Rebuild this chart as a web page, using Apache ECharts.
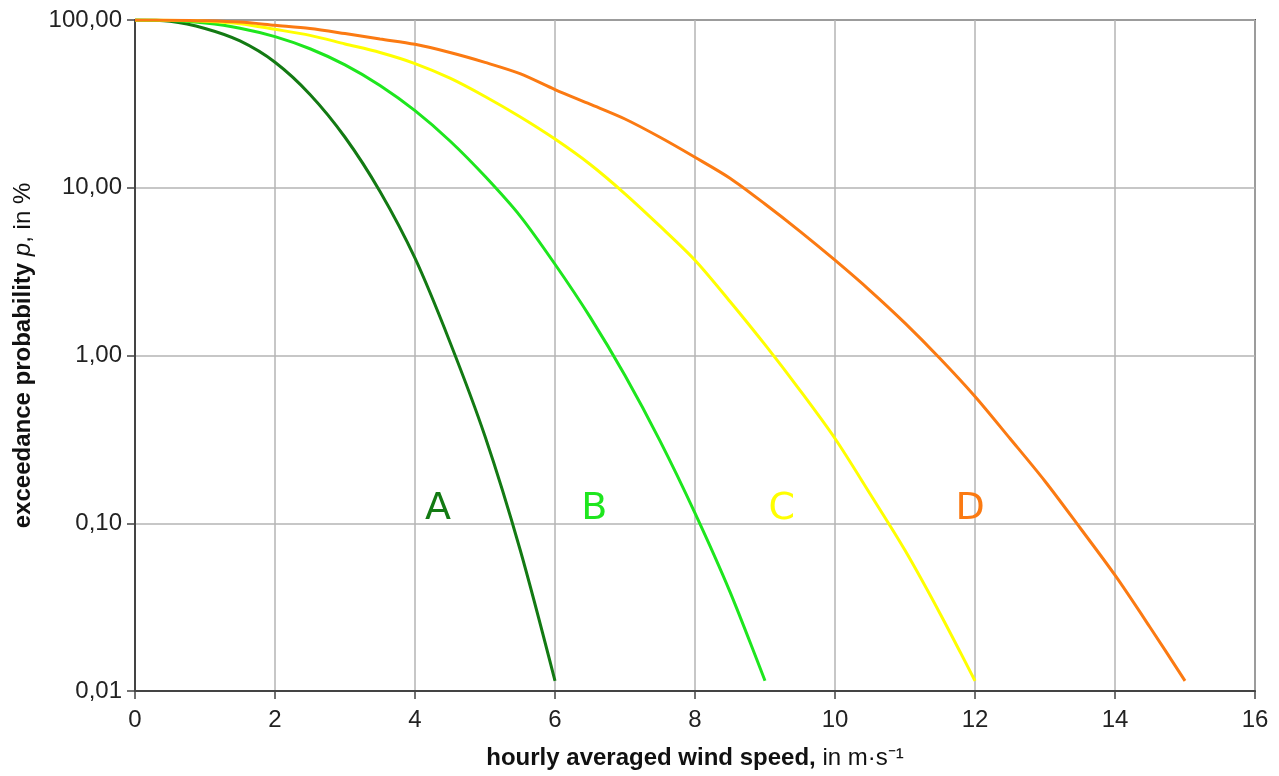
<!DOCTYPE html>
<html>
<head>
<meta charset="utf-8">
<title>Exceedance probability</title>
<script src="https://cdn.jsdelivr.net/npm/echarts@6/dist/echarts.min.js"></script>
<style>
    html, body { margin: 0; padding: 0; background: #fff; }
    #chart { width: 1279px; height: 776px; }
</style>
</head>
<body>
<div id="chart"></div>
<script>
// wind speed steps (m/s)
var speedA = [0, 0.5, 1, 1.5, 2, 2.5, 3, 3.5, 4, 4.5, 5, 5.5, 6];
var speedB = [0, 0.5, 1, 1.5, 2, 2.5, 3, 3.5, 4, 4.5, 5, 5.5, 6, 6.5, 7, 7.5, 8, 8.5, 9];
var speedC = [0, 0.5, 1, 1.5, 2, 2.5, 3, 3.5, 4, 4.5, 5, 5.5, 6, 6.5, 7, 7.5, 8, 8.5, 9, 9.5, 10, 10.5, 11, 11.5, 12];
var speedD = [0, 0.5, 1, 1.5, 2, 2.5, 3, 3.5, 4, 4.5, 5, 5.5, 6, 6.5, 7, 7.5, 8, 8.5, 9, 9.5, 10, 10.5, 11, 11.5, 12, 12.5, 13, 13.5, 14, 14.5, 15];

// exceedance probability p in %
var probA = [100, 98.2, 89, 75, 56, 36, 20, 9.5, 3.8, 1.2, 0.33, 0.07, 0.0115];
var probB = [100, 99.2, 95.9, 89.4, 79.6, 67.4, 54, 40.7, 28.8, 19, 11.7, 6.8, 3.5, 1.7, 0.76, 0.31, 0.115, 0.039, 0.0115];
var probC = [100, 99.6, 98.3, 95, 88, 81, 72, 64, 55, 45, 35, 26.5, 19.5, 13.8, 9.2, 5.9, 3.7, 2.1, 1.16, 0.62, 0.32, 0.15, 0.069, 0.029, 0.0115];
var probD = [100, 99.8, 99, 97.2, 93, 89, 83, 77, 71.6, 64, 55.9, 47.9, 38.5, 31.5, 25.7, 20, 15.2, 11.4, 8, 5.5, 3.7, 2.44, 1.56, 0.96, 0.57, 0.32, 0.178, 0.094, 0.049, 0.024, 0.0115];

// curve names and colors
var curveNames = ["A", "B", "C", "D"];
var curveColors = ["#137a13", "#1ee61e", "#ffff00", "#fb7a12"];
var labelSpeed = [4.33, 6.56, 9.24, 11.93];
var labelProb = 0.1;

function pairs(xs, ys) {
    var out = [];
    for (var i = 0; i < xs.length; i++) {
        out.push([xs[i], ys[i]]);
    }
    return out;
}

var allSpeeds = [speedA, speedB, speedC, speedD];
var allProbs = [probA, probB, probC, probD];

var series = [];
for (var k = 0; k < curveNames.length; k++) {
    series.push({
        name: curveNames[k],
        type: "line",
        data: pairs(allSpeeds[k], allProbs[k]),
        showSymbol: false,
        smooth: 0.3,
        lineStyle: { color: curveColors[k], width: 3 },
        z: 3
    });
}

// letters sitting on the 0,10 grid line
series.push({
    type: "scatter",
    symbolSize: 0,
    silent: true,
    itemStyle: { opacity: 1 },
    data: labelSpeed.map(function(x, i) {
        return {
            value: [x, labelProb],
            label: {
                show: true,
                position: "top",
                distance: -5,
                formatter: curveNames[i],
                color: curveColors[i],
                opacity: 1,
                fontSize: 38,
                fontFamily: "DejaVu Sans"
            }
        };
    }),
    z: 4
});

var myChart = echarts.init(document.getElementById("chart"));
var option = {
    backgroundColor: "#fff",
    animation: false,
    textStyle: { fontFamily: "Liberation Sans, Arial, sans-serif" },
    grid: {
        left: 135,
        right: 24,
        top: 20,
        bottom: 85,
        show: true,
        borderColor: "#555",
        borderWidth: 2
    },
    xAxis: {
        type: "value",
        min: 0,
        max: 16,
        interval: 2,
        name: "{b|hourly averaged wind speed, }{n|in m·s⁻¹}",
        nameLocation: "middle",
        nameGap: 55,
        nameTextStyle: {
            rich: {
                b: { fontWeight: "bold", fontSize: 24, color: "#111" },
                n: { fontSize: 24, color: "#111" }
            }
        },
        axisLine: { show: true, lineStyle: { color: "#444", width: 2 } },
        axisTick: { show: true, length: 8, lineStyle: { color: "#444", width: 1.5 } },
        axisLabel: { fontSize: 24, color: "#222", margin: 17 },
        splitLine: { show: true, lineStyle: { color: "#b4b4b4", width: 1.5 } }
    },
    yAxis: {
        type: "log",
        logBase: 10,
        min: 0.01,
        max: 100,
        name: "{b|exceedance probability }{i|p}{n|, in %}",
        nameLocation: "middle",
        nameGap: 100,
        nameRotate: 90,
        nameTextStyle: {
            rich: {
                b: { fontWeight: "bold", fontSize: 24, color: "#111" },
                i: { fontStyle: "italic", fontSize: 24, color: "#111" },
                n: { fontSize: 24, color: "#111" }
            }
        },
        axisLine: { show: true, lineStyle: { color: "#444", width: 2 } },
        axisTick: { show: true, length: 8, lineStyle: { color: "#444", width: 1.5 } },
        axisLabel: {
            fontSize: 24,
            color: "#222",
            margin: 13,
            formatter: function(v) {
                return v.toFixed(2).replace(".", ",");
            }
        },
        splitLine: { show: true, lineStyle: { color: "#b4b4b4", width: 1.5 } },
        minorTick: { show: false }
    },
    series: series
};
myChart.setOption(option);
</script>
</body>
</html>
